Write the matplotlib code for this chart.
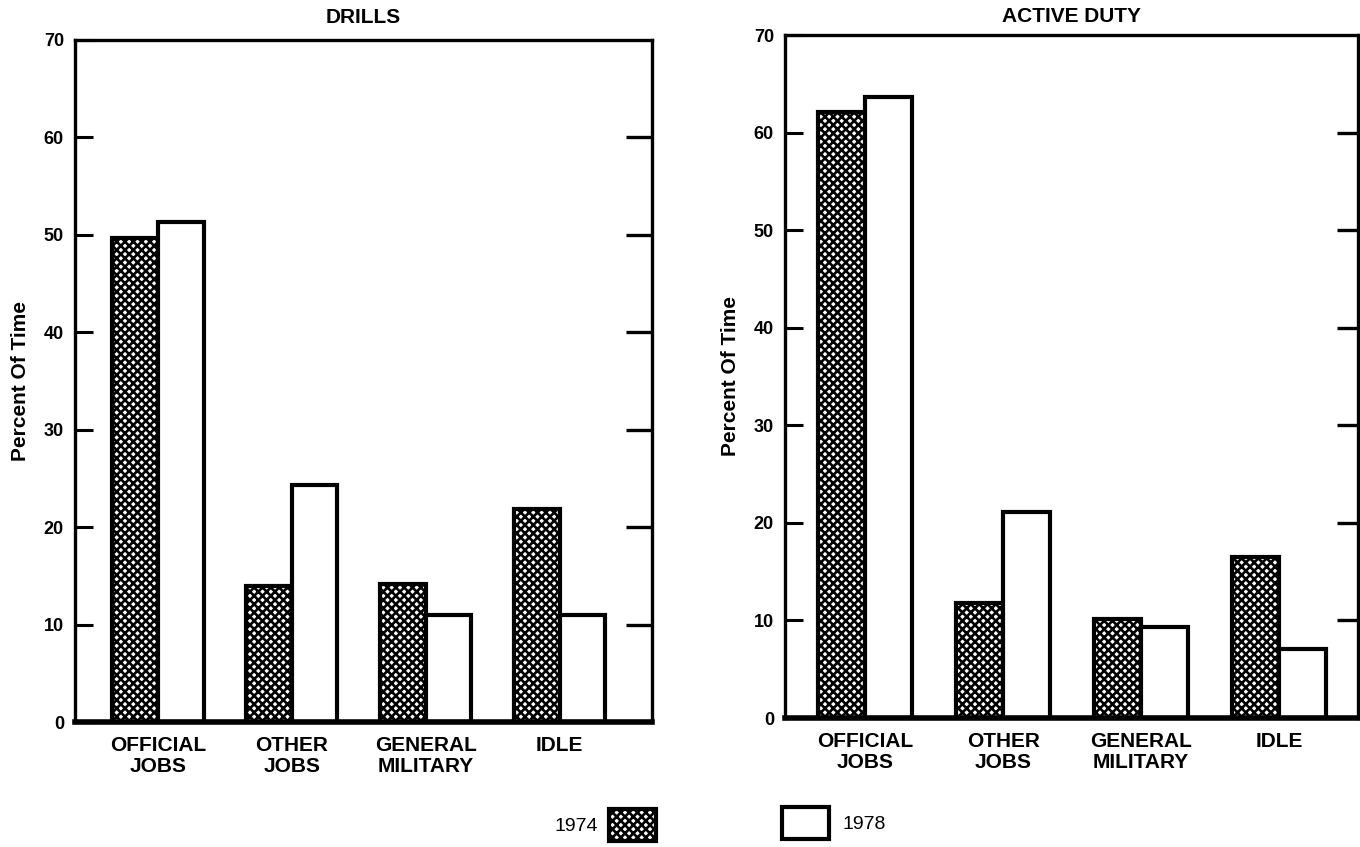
import numpy as np
import matplotlib
matplotlib.use("Agg")
import matplotlib.pyplot as plt

plt.rcParams['font.family'] = ['Liberation Sans', 'DejaVu Sans']
plt.rcParams['hatch.linewidth'] = 1.9
plt.rcParams['hatch.color'] = 'black'

categories = ["OFFICIAL\nJOBS", "OTHER\nJOBS", "GENERAL\nMILITARY", "IDLE"]
years = ["1974", "1978"]

drills_1974 = [49.7, 14.0, 14.2, 21.9]
drills_1978 = [51.3, 24.3, 11.0, 11.0]
active_1974 = [62.1, 11.8, 10.1, 16.5]
active_1978 = [63.6, 21.1, 9.3, 7.1]

yticks = [0, 10, 20, 30, 40, 50, 60, 70]

W, H = 1360, 847
fig = plt.figure(figsize=(W / 100, H / 100), dpi=100)
HATCH = 'xxxx'


def px_axes(x0, y0, x1, y1):
    # pixel box (left, top, right, bottom) -> figure fraction
    return fig.add_axes([x0 / W, 1 - y1 / H, (x1 - x0) / W, (y1 - y0) / H])


def panel(ax, v74, v78, title, xlim, rlen, tpad):
    x = np.arange(len(categories))
    bw = 0.34
    ax.bar(x - bw / 2, v74, bw, facecolor='white', edgecolor='black',
           linewidth=3, hatch=HATCH, zorder=2)
    ax.bar(x + bw / 2, v78, bw, facecolor='white', edgecolor='black',
           linewidth=3, zorder=2)
    ax.set_xlim(*xlim)
    ax.set_ylim(0, 70)
    ax.set_xticks(x)
    ax.set_xticklabels(categories, fontsize=15, fontweight='bold',
                       linespacing=1.15)
    ax.tick_params(axis='x', length=0, pad=10)
    ax.set_yticks(yticks)
    ax.set_yticklabels([str(t) for t in yticks], fontsize=13, fontweight='bold')
    ax.tick_params(axis='y', direction='in', length=13, width=2.2, pad=8)
    for s in ax.spines.values():
        s.set_linewidth(2.4)
    ax.spines['bottom'].set_linewidth(4)
    ax.set_ylabel("Percent Of Time", fontsize=15, fontweight='bold', labelpad=10)
    ax.set_title(title, fontsize=15, fontweight='bold',
                 family=['Liberation Sans Narrow', 'Liberation Sans'], pad=tpad)
    tw = ax.twinx()
    tw.set_ylim(0, 70)
    tw.set_yticks(yticks[1:-1])
    tw.set_yticklabels([])
    tw.tick_params(axis='y', direction='in', length=rlen, width=2.4)
    for s in tw.spines.values():
        s.set_visible(False)


ax1 = px_axes(75, 40, 652, 722)
panel(ax1, drills_1974, drills_1978, "DRILLS", (-0.62, 3.69), 19, 12)

ax2 = px_axes(785, 35, 1358, 718)
panel(ax2, active_1974, active_1978, "ACTIVE DUTY", (-0.58, 3.57), 15, 9)

# legend
h74 = plt.Rectangle((0, 0), 1, 1, facecolor='white', edgecolor='black',
                    linewidth=3, hatch=HATCH)
h78 = plt.Rectangle((0, 0), 1, 1, facecolor='white', edgecolor='black',
                    linewidth=3)
fig.legend([h74], [years[0]], loc='center right', bbox_to_anchor=(656 / W, 1 - 825 / H),
           frameon=False, markerfirst=False, fontsize=14, handlelength=2.4,
           handleheight=2.2, handletextpad=0.6, borderpad=0, borderaxespad=0)
fig.legend([h78], [years[1]], loc='center left', bbox_to_anchor=(782 / W, 1 - 823 / H),
           frameon=False, fontsize=14, handlelength=2.4,
           handleheight=2.1, handletextpad=0.7, borderpad=0, borderaxespad=0)

fig.savefig("out.png", dpi=100)
